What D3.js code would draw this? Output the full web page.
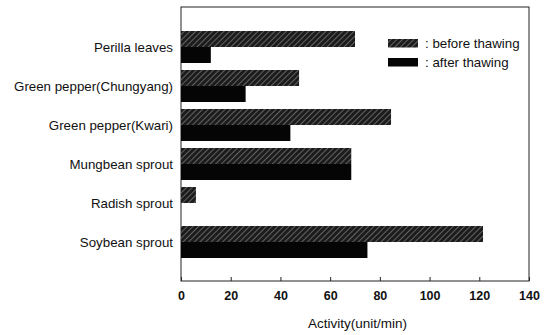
<!DOCTYPE html>
<html>
<head>
<meta charset="utf-8">
<script src="https://cdn.jsdelivr.net/npm/d3@7"></script>
<style>
  body { margin: 0; background: #fff; }
  text { font-family: "Liberation Sans", Arial, sans-serif; fill: #111; }
</style>
</head>
<body>
<svg id="chart"></svg>
<script>
var categories = ["Perilla leaves", "Green pepper(Chungyang)", "Green pepper(Kwari)",
                  "Mungbean sprout", "Radish sprout", "Soybean sprout"];
var beforeThawing = [70, 47.5, 84.5, 68.5, 6, 121.5];
var afterThawing  = [12, 26, 44, 68.5, 0, 75];
var xTicks = [0, 20, 40, 60, 80, 100, 120, 140];

var width = 548, height = 335;
var margin = { top: 7, right: 19, bottom: 54, left: 181 };

var svg = d3.select("#chart")
    .attr("width", width)
    .attr("height", height);

var defs = svg.append("defs");
var pat = defs.append("pattern")
    .attr("id", "hatch")
    .attr("patternUnits", "userSpaceOnUse")
    .attr("width", 4)
    .attr("height", 4)
    .attr("patternTransform", "rotate(45)");
pat.append("rect").attr("width", 4).attr("height", 4).attr("fill", "#1c1c1c");
pat.append("line")
    .attr("x1", 0).attr("y1", 0).attr("x2", 0).attr("y2", 4)
    .attr("stroke", "#a8a8a8").attr("stroke-width", 1);

var x = d3.scaleLinear()
    .domain([0, 140])
    .range([margin.left, width - margin.right]);

var y = d3.scalePoint()
    .domain(categories)
    .range([margin.top + 1, height - margin.bottom])
    .padding(1);

var barH = 16;

// frame
svg.append("rect")
    .attr("x", margin.left)
    .attr("y", margin.top)
    .attr("width", width - margin.right - margin.left)
    .attr("height", height - margin.bottom - margin.top)
    .attr("fill", "none")
    .attr("stroke", "#222")
    .attr("stroke-width", 1);

var g = svg.append("g");

g.selectAll(".before")
    .data(categories)
  .enter().append("rect")
    .attr("class", "before")
    .attr("x", x(0))
    .attr("y", function(d) { return y(d) - barH; })
    .attr("width", function(d, i) { return x(beforeThawing[i]) - x(0); })
    .attr("height", barH)
    .attr("fill", "url(#hatch)");

g.selectAll(".after")
    .data(categories)
  .enter().append("rect")
    .attr("class", "after")
    .attr("x", x(0))
    .attr("y", function(d) { return y(d); })
    .attr("width", function(d, i) { return x(afterThawing[i]) - x(0); })
    .attr("height", barH)
    .attr("fill", "#050505");

// bottom axis, ticks pointing inward
var xAxis = d3.axisBottom(x)
    .tickValues(xTicks)
    .tickSizeInner(-4)
    .tickSizeOuter(0)
    .tickPadding(10);

var ax = svg.append("g")
    .attr("transform", "translate(0," + (height - margin.bottom) + ")")
    .call(xAxis);
ax.select(".domain").remove();
ax.selectAll("line").attr("stroke", "#222");
ax.selectAll("text")
    .attr("font-size", 12.5)
    .attr("font-weight", "bold")
    .attr("fill", "#111");

// category labels
svg.selectAll(".cat")
    .data(categories)
  .enter().append("text")
    .attr("class", "cat")
    .attr("x", 173)
    .attr("y", function(d) { return y(d); })
    .attr("dy", "0.35em")
    .attr("text-anchor", "end")
    .attr("font-size", 13.3)
    .text(function(d) { return d; });

svg.append("text")
    .attr("x", x(71))
    .attr("y", 328)
    .attr("text-anchor", "middle")
    .attr("font-size", 13.5)
    .text("Activity(unit/min)");

// legend
var legend = [
  { label: ": before thawing", fill: "url(#hatch)", y: 39 },
  { label: ": after thawing",  fill: "#050505",     y: 58 }
];
var lg = svg.selectAll(".lg")
    .data(legend)
  .enter().append("g")
    .attr("class", "lg");
lg.append("rect")
    .attr("x", 388)
    .attr("y", function(d) { return d.y; })
    .attr("width", 30)
    .attr("height", 8.5)
    .attr("fill", function(d) { return d.fill; });
lg.append("text")
    .attr("x", 425)
    .attr("y", function(d) { return d.y + 4.5; })
    .attr("dy", "0.35em")
    .attr("font-size", 13.3)
    .text(function(d) { return d.label; });
</script>
</body>
</html>
